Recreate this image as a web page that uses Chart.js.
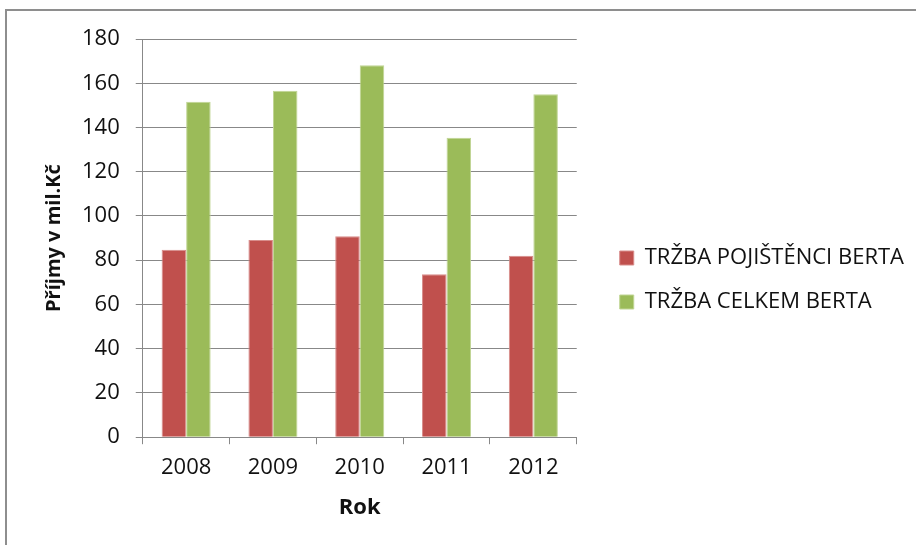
<!DOCTYPE html>
<html>
<head>
<title>Tržba Berta</title>
<style>
  body { margin: 0; background: #fff; }
  #frame { position: absolute; left: 5px; top: 9px; width: 930px; height: 560px; border: 2px solid #8e8e8e; }
  #wrap { position: absolute; left: 0; top: 0; width: 916px; height: 545px; }
</style>
</head>
<body>
<div id="frame"></div>
<div id="wrap"><canvas id="myChart"></canvas></div>
<script src="https://cdn.jsdelivr.net/npm/chart.js"></script>
<script>
const years = ['2008', '2009', '2010', '2011', '2012'];
const pojistenci = [84.7, 89.1, 90.8, 73.7, 82.0];
const celkem = [151.6, 156.6, 168.1, 135.4, 155.0];
const yTicks = [0, 20, 40, 60, 80, 100, 120, 140, 160, 180];

const FONT = '"Open Sans", sans-serif';
const LEGEND_SHIFT = 21; // extra gap between plot and legend

// push legend content to the right so it sits away from the plot
const legendShift = {
  id: 'legendShift',
  afterLayout(chart) {
    chart.legend.left += LEGEND_SHIFT;
    chart.legend.right += LEGEND_SHIFT;
  }
};

const ctx = document.getElementById('myChart');
new Chart(ctx, {
  type: 'bar',
  data: {
    labels: years,
    datasets: [{
      label: 'TRŽBA POJIŠTĚNCI BERTA',
      data: pojistenci,
      backgroundColor: '#c0504d',
      borderColor: '#d88d8b',
      borderWidth: 1
    }, {
      label: 'TRŽBA CELKEM BERTA',
      data: celkem,
      backgroundColor: '#9bbb59',
      borderColor: '#c0d594',
      borderWidth: 1
    }]
  },
  plugins: [legendShift],
  options: {
    responsive: true,
    maintainAspectRatio: false,
    animation: false,
    layout: { padding: { left: 41, top: 39, right: 23, bottom: 24 } },
    datasets: { bar: { categoryPercentage: 0.565, barPercentage: 1 } },
    plugins: {
      tooltip: { enabled: false },
      legend: {
        position: 'right',
        maxWidth: 420,
        labels: {
          font: { family: FONT, size: 22 },
          color: '#111',
          boxWidth: 14,
          boxHeight: 14,
          padding: 22
        }
      }
    },
    scales: {
      x: {
        grid: { display: true, drawOnChartArea: false, drawTicks: true, tickLength: 7, color: '#888', offset: true },
        border: { color: '#888' },
        ticks: { font: { family: FONT, size: 22 }, color: '#111', padding: 10 },
        title: { display: true, text: 'Rok', font: { family: FONT, size: 22, weight: 'bold' }, color: '#111', padding: { top: 4, bottom: 0 } }
      },
      y: {
        min: 0,
        max: 180,
        afterBuildTicks: axis => { axis.ticks = yTicks.map(v => ({ value: v })); },
        grid: { color: '#888', tickLength: 7 },
        border: { color: '#888' },
        ticks: { font: { family: FONT, size: 22 }, color: '#111', padding: 16 },
        title: { display: true, text: 'Příjmy v mil.Kč', font: { family: FONT, size: 20, weight: 'bold' }, color: '#111', padding: { top: 1, bottom: 0 } }
      }
    }
  }
});
</script>
</body>
</html>
